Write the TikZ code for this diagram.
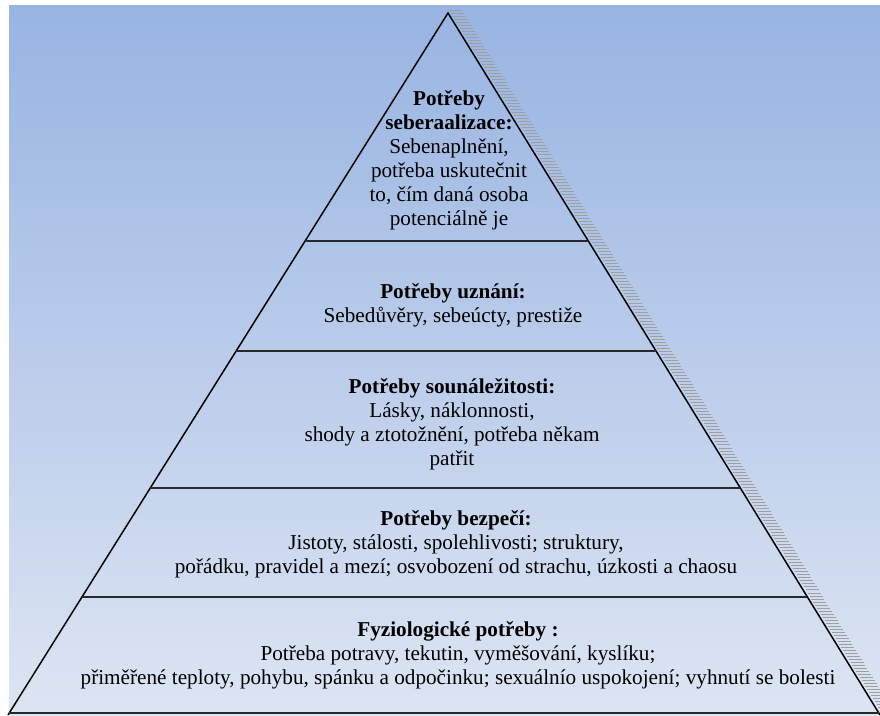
\documentclass[tikz,border=0pt]{standalone}
\usepackage{fontspec}
\setmainfont{Liberation Serif}
\usepackage{tikz}
\usetikzlibrary{calc,positioning}
\definecolor{skytop}{RGB}{152,180,226}
\definecolor{skybot}{RGB}{221,229,243}
\definecolor{inkline}{RGB}{40,40,40}

\begin{document}
\begin{tikzpicture} [
    x = 1pt, y = -1pt,
    edge/.style = { black, line width = 1.5pt },
    tierline/.style = { inkline, line width = 1.8pt },
    hatch/.style = { gray!75, line width = 1pt },
    tier/.style = { align = center, inner sep = 0, font = \fontsize{21.2}{24}\selectfont }
    ]

    \useasboundingbox (0,0) rectangle (880,715);
    \shade[top color = skytop, bottom color = skybot] (9,5) rectangle (880,715);

    \coordinate (apex) at (448,13);
    \coordinate (bl) at (8,715);
    \coordinate (br) at (880,715);

    % shaded side of the pyramid
    \foreach \t in {0.0,0.0043,...,0.995} {
      \draw[hatch] ($(apex)!\t!(br)$) ++(1,-3) -- ++(13,0);
    }

    \draw[edge] (bl) -- (apex) -- (br);
    \foreach \t in {0.3248,0.4815,0.6766,0.8319,0.9972} {
      \draw[tierline] ($(apex)!\t!(bl)$) -- ($(apex)!\t!(br)$);
    }

    \node[tier] (selfact) at (449,160) {\textbf{Potřeby}\\ \textbf{seberaalizace:}\\ Sebenaplnění,\\ potřeba uskutečnit\\ to, čím daná osoba\\ potenciálně je};
    \node[tier] (esteem) at (453,305) {\textbf{Potřeby uznání:}\\ Sebedůvěry, sebeúcty, prestiže};
    \node[tier] (belong) at (452,424) {\textbf{Potřeby sounáležitosti:}\\ Lásky, náklonnosti,\\ shody a ztotožnění, potřeba někam\\ patřit};
    \node[tier] (safety) at (456,544) {\textbf{Potřeby bezpečí:}\\ Jistoty, stálosti, spolehlivosti; struktury,\\ pořádku, pravidel a mezí; osvobození od strachu, úzkosti a chaosu};
    \node[tier] (physio) at (458,655) {\textbf{Fyziologické potřeby :}\\ Potřeba potravy, tekutin, vyměšování, kyslíku;\\ přiměřené teploty, pohybu, spánku a odpočinku; sexuálnío uspokojení; vyhnutí se bolesti};
\end{tikzpicture}
\end{document}
